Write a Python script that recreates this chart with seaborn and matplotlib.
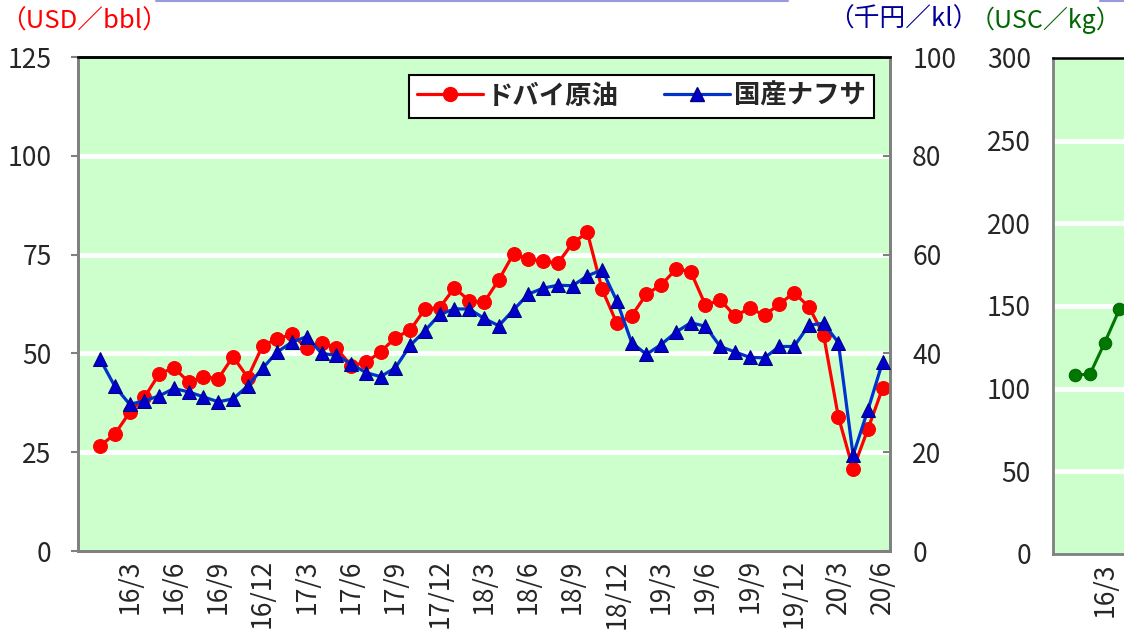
import numpy as np
import pandas as pd
import matplotlib
matplotlib.use("Agg")
import matplotlib.pyplot as plt
import seaborn as sns
from matplotlib.lines import Line2D

# month index: 1 = 2016/1 ... 54 = 2020/6
months = list(range(1, 55))

# Dubai crude (USD/bbl)
dubai = [26.6, 29.6, 35.1, 38.9, 44.8, 46.4, 42.7, 44.1, 43.6, 49.2, 43.9, 51.9,
         53.7, 54.8, 51.3, 52.7, 51.3, 46.9, 47.7, 50.4, 54.0, 55.9, 61.2, 61.6,
         66.6, 63.3, 62.9, 68.6, 75.2, 73.8, 73.4, 72.8, 77.9, 80.6, 66.2, 57.6,
         59.5, 65.0, 67.3, 71.3, 70.7, 62.2, 63.5, 59.5, 61.4, 59.7, 62.4, 65.4,
         61.8, 54.7, 34.0, 20.7, 30.8, 41.2]

# domestic naphtha (thousand yen/kl)
naphtha = [38.8, 33.3, 29.7, 30.4, 31.4, 32.9, 32.2, 31.2, 30.2, 30.8, 33.4, 37.0,
           40.3, 42.3, 43.4, 40.0, 39.6, 37.9, 36.1, 35.3, 37.1, 41.6, 44.6, 47.9,
           49.0, 49.0, 47.1, 45.6, 48.8, 52.0, 53.2, 53.8, 53.7, 55.7, 56.9, 50.6,
           42.2, 39.8, 41.8, 44.3, 46.2, 45.5, 41.4, 40.3, 39.2, 39.1, 41.4, 41.4,
           45.7, 46.1, 42.2, 19.4, 28.5, 38.3]

# right-hand partial chart (USC/kg)
side_months = [1, 2, 3, 4, 5]
side_vals = [108.3, 108.7, 127.8, 148.0, 155.0]

tick_pos = list(range(3, 55, 3))
tick_labels = ["16/3", "16/6", "16/9", "16/12", "17/3", "17/6", "17/9", "17/12",
               "18/3", "18/6", "18/9", "18/12", "19/3", "19/6", "19/9", "19/12",
               "20/3", "20/6"]

sns.set_style("white")
plt.rcParams['font.family'] = ['Noto Sans CJK JP', 'DejaVu Sans']

W, H = 1124, 644
fig = plt.figure(figsize=(W / 100, H / 100), dpi=100)
bg = '#CCFFCC'
gray = '#808080'
FS = 19


def style_axes(a, grid_vals, pos, labels):
    a.set_facecolor(bg)
    a.set_xlim(-0.5, 54.5)
    for v in grid_vals:
        a.axhline(v, color='white', lw=3.5, zorder=0.5)
    for s in ['left', 'bottom', 'right']:
        a.spines[s].set_color(gray)
        a.spines[s].set_linewidth(2)
    a.spines['top'].set_color('black')
    a.spines['top'].set_linewidth(1.8)
    a.set_xticks(pos)
    a.set_xticklabels(labels, rotation=90, fontsize=FS)
    a.set_xticks(np.arange(0.5, 54, 1), minor=True)
    a.tick_params(axis='x', which='major', length=0, pad=6)
    a.tick_params(axis='x', which='minor', direction='in', length=5,
                  color=gray, width=1.2)


# main chart
ax = fig.add_axes([78 / W, 93 / H, 812 / W, 494 / H])
style_axes(ax, [25, 50, 75, 100], tick_pos, tick_labels)
ax.set_ylim(0, 125)
ax.set_yticks([0, 25, 50, 75, 100, 125])
ax.tick_params(axis='y', direction='out', length=5, color=gray, width=1.5,
               labelsize=FS, pad=14)
sns.lineplot(x=months, y=dubai, ax=ax, color='#FF0000', linewidth=2.3,
             marker='o', markersize=10, markeredgecolor='#FF0000', zorder=3)
ax.set_xlabel('')
ax.set_ylabel('')

ax2 = ax.twinx()
ax2.set_ylim(0, 100)
ax2.set_yticks([0, 20, 40, 60, 80, 100])
ax2.tick_params(axis='y', direction='in', length=5, color=gray, width=1.5,
                labelsize=FS, pad=16)
for s in ['left', 'bottom', 'right']:
    ax2.spines[s].set_color(gray)
    ax2.spines[s].set_linewidth(2)
ax2.spines['top'].set_color('black')
ax2.spines['top'].set_linewidth(1.8)
sns.lineplot(x=months, y=naphtha, ax=ax2, color='#0033CC', linewidth=2.3,
             marker='^', markersize=10, markerfacecolor='#0000CC',
             markeredgecolor='#000080', zorder=3)
ax2.set_xlabel('')
ax2.set_ylabel('')

handles = [
    Line2D([], [], color='#FF0000', lw=2.3, marker='o', markersize=10,
           markeredgecolor='#FF0000'),
    Line2D([], [], color='#0033CC', lw=2.3, marker='^', markersize=10,
           markerfacecolor='#0000CC', markeredgecolor='#000080'),
]
leg = ax2.legend(handles, ['ドバイ原油', '国産ナフサ'], ncol=2,
                 loc='upper right', bbox_to_anchor=(0.98, 0.964),
                 borderaxespad=0,
                 prop={'size': 19, 'weight': 'bold'},
                 handlelength=2.5, handletextpad=0.15, columnspacing=1.7,
                 borderpad=0.3, fancybox=False, framealpha=1)
leg.get_frame().set_edgecolor('black')
leg.get_frame().set_linewidth(1.5)

# partial chart on the right (only its first label is in view)
ax3 = fig.add_axes([1053 / W, 90 / H, 812 / W, 496 / H])
style_axes(ax3, [50, 100, 150, 200, 250], tick_pos[:1], tick_labels[:1])
ax3.set_ylim(0, 300)
ax3.set_yticks([0, 50, 100, 150, 200, 250, 300])
ax3.tick_params(axis='y', direction='in', length=5, color=gray, width=1.5,
                labelsize=FS, pad=16)
sns.lineplot(x=side_months, y=side_vals, ax=ax3, color='#007700',
             linewidth=2.2, marker='o', markersize=9,
             markeredgecolor='#006600', zorder=3)
ax3.set_xlabel('')
ax3.set_ylabel('')

# unit labels
fig.text(0 / W, 1 - 22 / H, '（USD／bbl）', color='#FF0000', fontsize=18.5,
         va='center', ha='left')
fig.text(828 / W, 1 - 20 / H, '（千円／kl）', color='#000099', fontsize=18.5,
         va='center', ha='left')
fig.text(1121 / W, 1 - 20 / H, '（USC／kg）', color='#006600', fontsize=18,
         va='center', ha='right')

# border lines of the boxes above
fig.add_artist(Line2D([156 / W, 788 / W], [1 - 1 / H] * 2, color='#9999DD',
                      lw=1.5, transform=fig.transFigure))
fig.add_artist(Line2D([1100 / W, 1124 / W], [1 - 1 / H] * 2, color='#9999DD',
                      lw=1.5, transform=fig.transFigure))

fig.savefig('out.png', dpi=100)
